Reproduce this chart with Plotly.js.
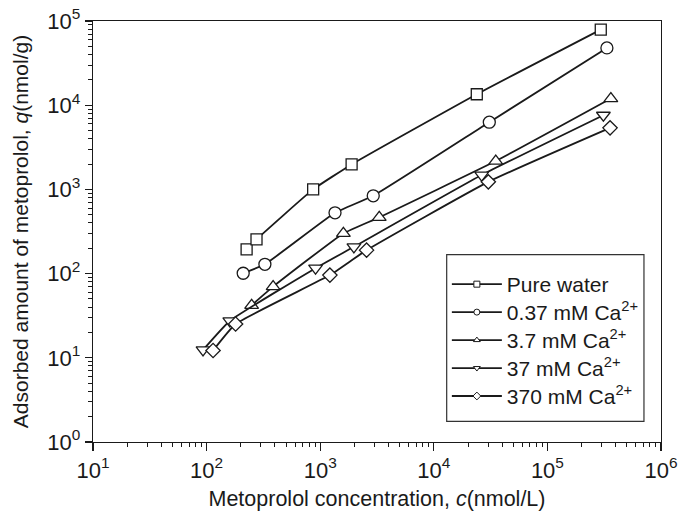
<!DOCTYPE html>
<html>
<head>
<meta charset="utf-8">
<script src="https://cdn.plot.ly/plotly-3.0.1.min.js"></script>
<style>html,body{margin:0;padding:0;background:#fff;}#chart{width:678px;height:511px;}</style>
</head>
<body>
<div id="chart"></div>
<script>
// Data (x: nmol/L, y: nmol/g)
const seriesNames = ["Pure water", "0.37 mM Ca<sup>2+</sup>", "3.7 mM Ca<sup>2+</sup>", "37 mM Ca<sup>2+</sup>", "370 mM Ca<sup>2+</sup>"];

const pureWaterX = [225, 275, 867, 1890, 23900, 295000];
const pureWaterY = [194, 255, 1000, 1980, 13500, 79000];

const ca037X = [210, 326, 1350, 2930, 30800, 334000];
const ca037Y = [101, 129, 527, 839, 6280, 47900];

const ca37X = [249, 385, 1600, 3310, 35100, 362000];
const ca37Y = [42, 70, 300, 466, 2170, 12000];

const ca37mX = [93, 160, 910, 1980, 26400, 311000];
const ca37mY = [12.4, 27.4, 116, 208, 1480, 7600];

const ca370X = [114, 180, 1217, 2560, 30200, 356000];
const ca370Y = [12.2, 25.2, 96, 190, 1230, 5380];

const tickVals = [10, 100, 1000, 10000, 100000, 1000000];
const tickText = ["10<sup>1</sup>", "10<sup>2</sup>", "10<sup>3</sup>", "10<sup>4</sup>", "10<sup>5</sup>", "10<sup>6</sup>"];
const yTickVals = [1, 10, 100, 1000, 10000, 100000];
const yTickText = ["10<sup>0</sup>", "10<sup>1</sup>", "10<sup>2</sup>", "10<sup>3</sup>", "10<sup>4</sup>", "10<sup>5</sup>"];

const symbols = ["square", "circle", "triangle-up", "triangle-down", "diamond"];
const sizes = [11, 12, 12, 12, 11];
const xs = [pureWaterX, ca037X, ca37X, ca37mX, ca370X];
const ys = [pureWaterY, ca037Y, ca37Y, ca37mY, ca370Y];

const lineColor = "#1a1a1a";
const traces = [];
for (let i = 0; i < 5; i++) {
  traces.push({
    x: xs[i], y: ys[i], type: "scatter", mode: "lines+markers",
    showlegend: false,
    line: {color: lineColor, width: 1.8, shape: "spline", smoothing: 0.4},
    marker: {symbol: symbols[i], size: sizes[i], color: "#ffffff", line: {color: lineColor, width: 1.3}}
  });
}
// legend entries (small markers as in the reference legend)
for (let i = 0; i < 5; i++) {
  traces.push({
    x: [null], y: [null], type: "scatter", mode: "lines+markers",
    name: '<span style="font-size:21px">' + seriesNames[i] + '</span>',
    line: {color: lineColor, width: 1.8},
    marker: {symbol: symbols[i], size: 6, color: "#ffffff", line: {color: lineColor, width: 1}}
  });
}

const FF = "Liberation Sans, Arial, sans-serif";
const layout = {
  width: 678, height: 511,
  margin: {l: 93, r: 17, t: 21, b: 69},
  paper_bgcolor: "#fff", plot_bgcolor: "#fff",
  font: {family: FF, size: 21, color: "#1a1a1a"},
  showlegend: true,
  legend: {
    x: 0.623, y: 0.42, xanchor: "left", yanchor: "top",
    bgcolor: "rgba(0,0,0,0)", borderwidth: 0,
    font: {family: FF, size: 19.2, color: "#1a1a1a"},
    tracegroupgap: 0, itemwidth: 50
  },
  shapes: [{
    type: "rect", xref: "paper", yref: "paper",
    x0: 0.6227, x1: 0.970, y0: 0.0492, y1: 0.445,
    line: {color: "#333", width: 1.2}, fillcolor: "#ffffff", layer: "above"
  }],
  xaxis: {
    type: "log", range: [1, 6],
    tickvals: tickVals, ticktext: tickText,
    ticks: "outside", ticklen: 8, tickwidth: 1.3, tickcolor: "#1a1a1a",
    minor: {ticks: "outside", ticklen: 4, tickwidth: 1, tickcolor: "#1a1a1a", dtick: "D1", showgrid: false},
    showline: true, linecolor: "#1a1a1a", linewidth: 1.3, mirror: true,
    showgrid: false, zeroline: false,
    tickfont: {family: FF, size: 22},
    title: {text: "Metoprolol concentration, <i>c</i>(nmol/L)", font: {family: FF, size: 21.5}, standoff: 13}
  },
  yaxis: {
    type: "log", range: [0, 5],
    tickvals: yTickVals, ticktext: yTickText,
    ticks: "outside", ticklen: 7, tickwidth: 1.3, tickcolor: "#1a1a1a",
    minor: {ticks: "outside", ticklen: 4, tickwidth: 1, tickcolor: "#1a1a1a", dtick: "D1", showgrid: false},
    showline: true, linecolor: "#1a1a1a", linewidth: 1.3, mirror: true,
    showgrid: false, zeroline: false,
    tickfont: {family: FF, size: 22},
    title: {text: "Adsorbed amount of metoprolol, <i>q</i>(nmol/g)", font: {family: FF, size: 21}, standoff: 13}
  }
};

Plotly.newPlot("chart", traces, layout, {displayModeBar: false, staticPlot: true});
</script>
</body>
</html>
